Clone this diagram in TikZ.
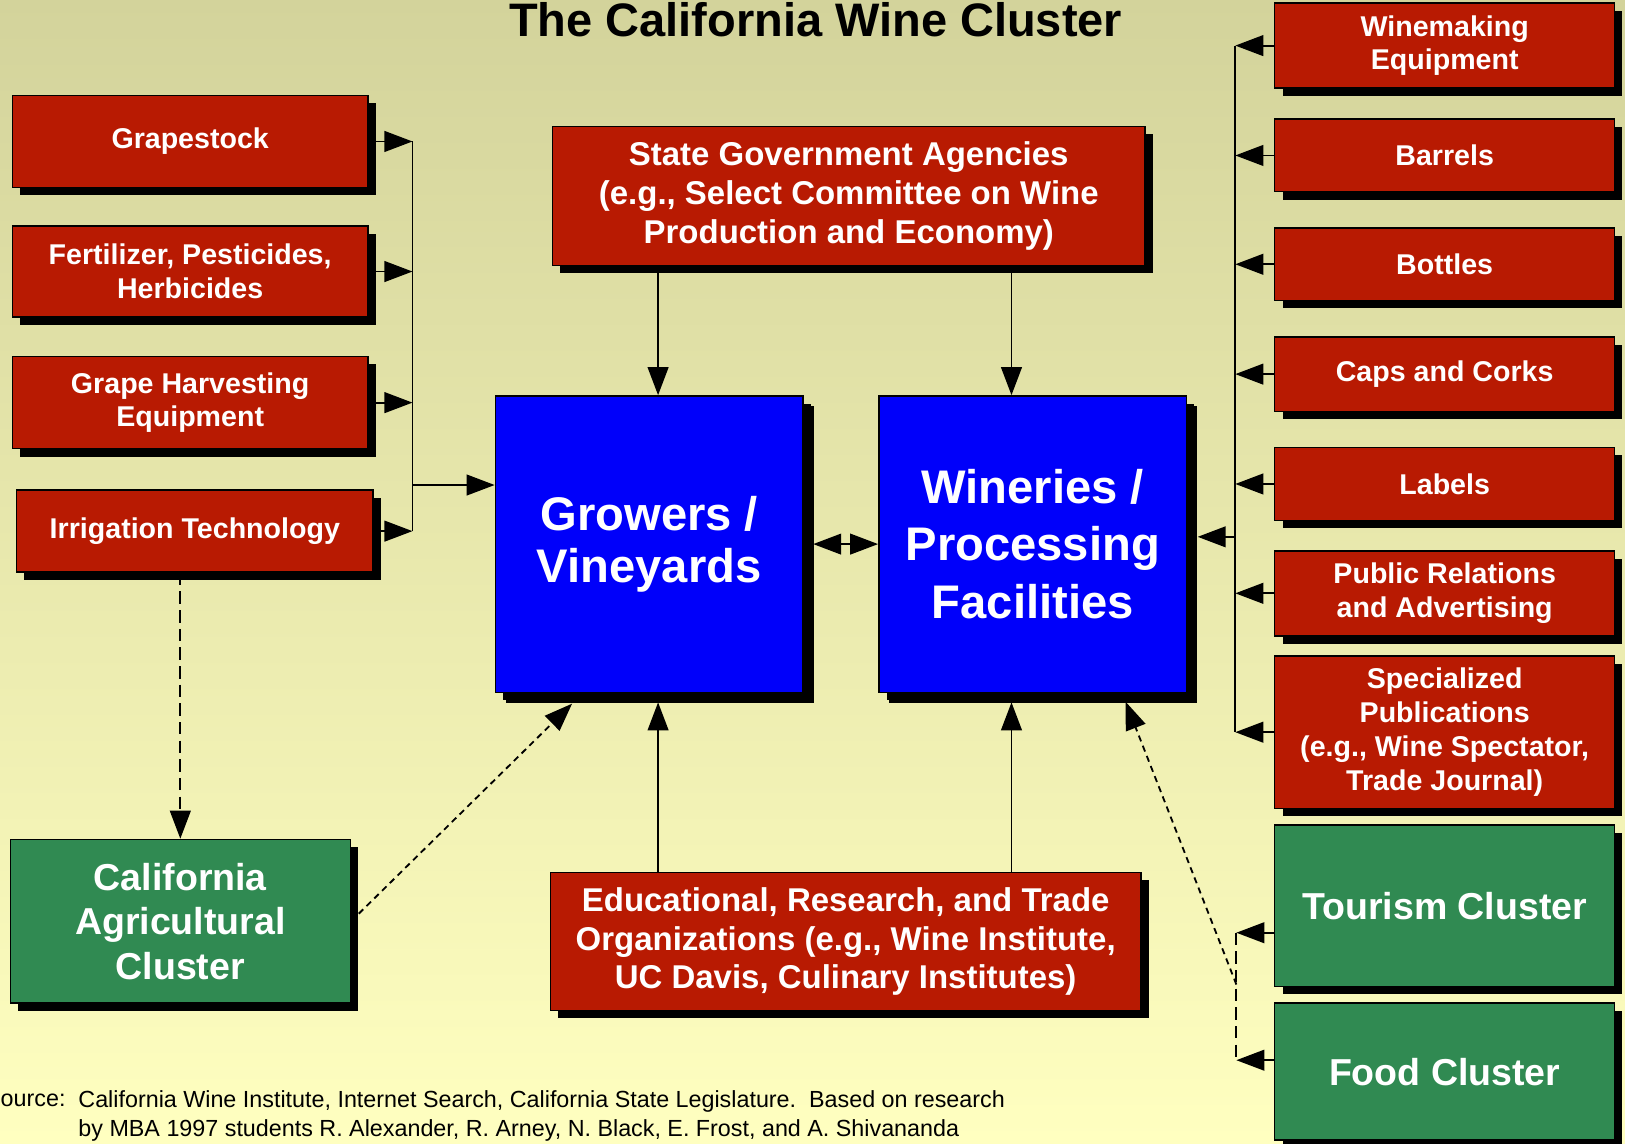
\documentclass[tikz,border=0pt]{standalone}
\usepackage{fontspec}
\setmainfont{Liberation Sans}
\usetikzlibrary{arrows.meta,shadows}
\definecolor{bgtop}{RGB}{211,211,155}
\definecolor{bgbot}{RGB}{255,255,192}
\definecolor{boxred}{RGB}{184,26,2}
\definecolor{boxblue}{RGB}{0,0,250}
\definecolor{boxgreen}{RGB}{48,138,82}
\tikzset{
  box/.style     = {shape=rectangle, draw=black, line width=0.4pt,
                    align=center, text=white,
                    drop shadow={shadow xshift=0.75mm, shadow yshift=-0.75mm,
                                 fill=black, opacity=1}},
  supply/.style  = {box, fill=boxred, minimum width=34.3mm,
                    font=\bfseries\fontsize{7.85}{9.3}\selectfont},
  agency/.style  = {box, fill=boxred, minimum width=57.2mm, minimum height=13.4mm,
                    font=\bfseries\fontsize{9.05}{10.6}\selectfont},
  core/.style    = {box, fill=boxblue, minimum width=29.7mm, minimum height=28.6mm,
                    drop shadow={shadow xshift=1mm, shadow yshift=-1mm,
                                 fill=black, opacity=1}},
  cluster/.style = {box, fill=boxgreen, minimum width=32.8mm,
                    font=\bfseries\fontsize{10.3}{12.2}\selectfont},
  title/.style   = {font=\bfseries\fontsize{12.9}{15}\selectfont},
  source/.style  = {inner sep=0pt, font=\fontsize{6.4}{8}\selectfont}
}

\begin{document}
\begin{tikzpicture}
  [
    x            = 1mm,
    y            = -1mm,
    >            = {Triangle[length=2.7mm, width=2mm]},
    feed/.style  = {draw, line width=0.5pt, ->},
    dfeed/.style = {feed, dash pattern=on 1.2mm off 0.6mm},
    sfeed/.style = {feed, dash pattern=on 0.6mm off 0.45mm}
  ]
  % background
  \useasboundingbox (0,0) rectangle (156.8,110.3);
  \shade [top color=bgtop, bottom color=bgbot] (0,0) rectangle (156.8,110.3);

  \node [title, anchor=base] (title) at (78.7,3.5) {The California Wine Cluster};

  % growers' suppliers
  \node [supply, minimum height=8.9mm] (grape)   at (18.35,13.65) {Grapestock};
  \node [supply, minimum height=8.8mm] (fert)    at (18.35,26.2)  {Fertilizer, Pesticides,\\Herbicides};
  \node [supply, minimum height=8.9mm] (harvest) at (18.35,38.85) {Grape Harvesting\\Equipment};
  \node [supply, minimum height=7.9mm, minimum width=34.4mm] (irrig) at (18.8,51.25) {Irrigation Technology};

  \node [agency] (gov) at (81.9,18.9)
        {State Government Agencies\\(e.g., Select Committee on Wine\\Production and Economy)};
  \node [core, font=\bfseries\fontsize{12.95}{14.2}\selectfont] (grow) at (62.65,52.5) {Growers /\\Vineyards};
  \node [core, font=\bfseries\fontsize{12.95}{15.8}\selectfont] (wine) at (99.65,52.5) {Wineries /\\Processing\\Facilities};
  \node [agency, minimum width=57mm, minimum height=13.3mm] (edu) at (81.6,90.85)
        {Educational, Research, and Trade\\Organizations (e.g., Wine Institute,\\UC Davis, Culinary Institutes)};
  \node [cluster, minimum height=15.8mm] (agri) at (17.4,88.9) {California\\Agricultural\\Cluster};

  % wineries' suppliers
  \node [supply, minimum width=32.8mm, minimum height=7.2mm] (wmeq)   at (139.4,4.4)   {Winemaking\\Equipment};
  \node [supply, minimum width=32.8mm, minimum height=7mm]   (barrel) at (139.4,15.0)  {Barrels};
  \node [supply, minimum width=32.8mm, minimum height=7mm]   (bottle) at (139.4,25.5)  {Bottles};
  \node [supply, minimum width=32.8mm, minimum height=7.2mm] (cork)   at (139.4,36.1)  {Caps and Corks};
  \node [supply, minimum width=32.8mm, minimum height=7mm]   (label)  at (139.4,46.7)  {Labels};
  \node [supply, minimum width=32.8mm, minimum height=7.1mm] (pr)     at (139.4,57.25) {Public Relations\\and Advertising};
  \node [supply, minimum width=32.8mm, minimum height=13.1mm] (pubs)  at (139.4,70.65)
        {Specialized\\Publications\\(e.g., Wine Spectator,\\Trade Journal)};
  \node [cluster, minimum height=15.6mm] (tour) at (139.4,87.4)  {Tourism Cluster};
  \node [cluster, minimum height=13.2mm] (food) at (139.4,103.4) {Food Cluster};

  \node [source, anchor=base west] (src) at (0,106.8) {ource:};
  \node [source, anchor=north west, align=left] (srctxt) at (7.5,105.15)
        {California Wine Institute, Internet Search, California State Legislature.\ \ Based on research\\
         by MBA 1997 students R. Alexander, R. Arney, N. Black, E. Frost, and A. Shivananda};

  % left bus
  \coordinate (lbus) at (39.8,46.8);
  \draw [feed] (grape.east)   -- (grape.east -| lbus);
  \draw [feed] (fert.east)    -- (fert.east -| lbus);
  \draw [feed] (harvest.east) -- (harvest.east -| lbus);
  \draw [feed] (irrig.east)   -- (irrig.east -| lbus);
  \draw [line width=0.5pt] (grape.east -| lbus) -- (irrig.east -| lbus);
  \draw [feed] (lbus) -- (lbus -| grow.west);

  % government and institutions
  \coordinate (gx) at (63.5,0);
  \coordinate (wx) at (97.6,0);
  \draw [feed] (gov.south -| gx) -- (grow.north -| gx);
  \draw [feed] (gov.south -| wx) -- (wine.north -| wx);
  \draw [feed, shorten >=0.9mm] (edu.north -| gx) -- (grow.south -| gx);
  \draw [feed, shorten >=0.9mm] (edu.north -| wx) -- (wine.south -| wx);
  \draw [feed, <->, shorten <=0.9mm] (grow.east) -- (wine.west);

  % right bus
  \coordinate (rbus) at (119.2,51.8);
  \draw [feed] (wmeq.west)   -- (wmeq.west -| rbus);
  \draw [feed] (barrel.west) -- (barrel.west -| rbus);
  \draw [feed] (bottle.west) -- (bottle.west -| rbus);
  \draw [feed] (cork.west)   -- (cork.west -| rbus);
  \draw [feed] (label.west)  -- (label.west -| rbus);
  \draw [feed] (pr.west)     -- (pr.west -| rbus);
  \draw [feed] (pubs.west)   -- (pubs.west -| rbus);
  \draw [line width=0.5pt] (wmeq.west -| rbus) -- (pubs.west -| rbus);
  \draw [feed, shorten >=1mm] (rbus) -- (rbus -| wine.east);

  % related clusters
  \coordinate (tj)   at (119.3,90.0);
  \coordinate (fj)   at (119.3,102.3);
  \coordinate (dj)   at (119.3,95.0);
  \coordinate (wtip) at (108.6,67.7);
  \coordinate (gtip) at (55.2,67.9);
  \draw [dfeed] (tj -| tour.west) -- (tj);
  \draw [dfeed] (fj -| food.west) -- (fj);
  \draw [line width=0.5pt, dash pattern=on 1.2mm off 0.6mm] (tj) -- (fj);
  \draw [sfeed] (dj) -- (wtip);
  \draw [dfeed] (irrig.south -| agri.north) -- (agri.north);
  \draw [sfeed] (agri.east) -- (gtip);
\end{tikzpicture}
\end{document}
